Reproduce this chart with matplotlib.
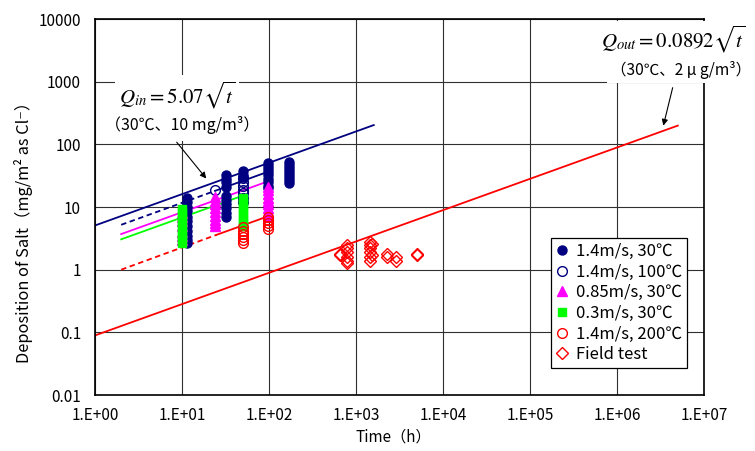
import numpy as np
import matplotlib.pyplot as plt
from matplotlib.ticker import NullLocator

plt.rcParams['font.family'] = ['Noto Sans CJK JP', 'DejaVu Sans']
plt.rcParams['mathtext.fontset'] = 'stix'

# --- data ---
# 1.4 m/s, 30 C (filled navy circles)
t_a = [11.5]*11 + [32]*10 + [50]*3 + [98]*9 + [168]*8
y_a = [14, 12, 10, 8.5, 7, 6, 5, 4.2, 3.5, 3, 2.7,
       32, 28, 25, 21, 15, 13, 11, 9.5, 8, 6.8,
       37, 33, 30,
       50, 45, 40, 36, 32, 28, 25, 22, 20,
       52, 47, 42, 38, 34, 30, 27, 24]
# 1.4 m/s, 100 C (open navy circles)
t_b = [24] + [50]*7
y_b = [18.5, 29, 25, 22, 19, 16.5, 14, 12]
# 0.85 m/s, 30 C (magenta triangles)
t_c = [10]*7 + [24]*9 + [98]*9
y_c = [8, 7, 6, 5, 4, 3.5, 3,
       14.5, 12.5, 11, 9.5, 8.3, 7.2, 6.3, 5.5, 4.9,
       21, 18.5, 16, 14, 12.5, 11, 9.5, 8.3, 7.2]
# 0.3 m/s, 30 C (green squares)
t_d = [10]*11 + [50]*9
y_d = [9.3, 8.3, 7.3, 6.5, 5.7, 5, 4.4, 3.9, 3.4, 3, 2.7,
       14, 12.5, 11, 9.5, 8.3, 7.2, 6.3, 5.5, 4.9]
# 1.4 m/s, 200 C (open red circles)
t_e = [50]*6 + [98]*5
y_e = [4.8, 4.2, 3.7, 3.3, 3.0, 2.7, 7.0, 6.2, 5.5, 4.9, 4.4]
# field test (open red diamonds)
t_f = [655, 655, 780, 780, 780, 780, 780, 780, 1450, 1450, 1450, 1450, 1450, 1450,
       1520, 1520, 2250, 2250, 2880, 2880, 4985, 4985]
y_f = [1.7, 1.8, 2.5, 2.2, 1.9, 1.6, 1.4, 1.3, 2.8, 2.5, 2.2, 1.9, 1.6, 1.4,
       2.6, 1.7, 1.8, 1.6, 1.6, 1.35, 1.75, 1.7]

# fitted lines (end points)
qin_t, qin_y = [1, 1600], [5.07, 203]
qout_t, qout_y = [1, 5e6], [0.0892, 199]
navy_dash_t, navy_dash_y = [2, 24], [5.2, 18.1]
navy_t, navy_y = [24, 100], [18.1, 37]
mag_t, mag_y = [2, 100], [3.7, 26]
grn_t, grn_y = [2, 50], [3.05, 15.2]
red_dash_t, red_dash_y = [2, 25], [1.0, 3.6]
red_t, red_y = [25, 100], [3.6, 7.2]

x_ticks = [10**i for i in range(8)]
x_labels = ['1.E+%02d' % i for i in range(8)]
y_ticks = [0.01, 0.1, 1, 10, 100, 1000, 10000]
y_labels = ['0.01', '0.1', '1', '10', '100', '1000', '10000']

navy = '#000080'
mag = '#FF00FF'
grn = '#00FF00'
red = '#FF0000'

fig = plt.figure(figsize=(7.55, 4.51), dpi=100)
ax = fig.add_axes([95/755, 56/451, 609/755, 376/451])
ax.set_xscale('log')
ax.set_yscale('log')

# lines
ax.plot(qin_t, qin_y, color=navy, lw=1.3)
ax.plot(qout_t, qout_y, color=red, lw=1.3)
ax.plot(navy_dash_t, navy_dash_y, color=navy, lw=1.3, dashes=(3, 2))
ax.plot(navy_t, navy_y, color=navy, lw=1.3)
ax.plot(mag_t, mag_y, color=mag, lw=1.3)
ax.plot(grn_t, grn_y, color=grn, lw=1.3)
ax.plot(red_dash_t, red_dash_y, color=red, lw=1.3, dashes=(3, 2))
ax.plot(red_t, red_y, color=red, lw=1.3)

# points
ax.plot(t_a, y_a, 'o', color=navy, ms=6.5, ls='none', label='1.4m/s, 30℃')
ax.plot(t_b, y_b, 'o', mfc='none', mec=navy, mew=1, ms=7, ls='none', label='1.4m/s, 100℃')
ax.plot(t_c, y_c, '^', color=mag, ms=7, ls='none', label='0.85m/s, 30℃')
ax.plot(t_d, y_d, 's', color=grn, ms=6, ls='none', label='0.3m/s, 30℃')
ax.plot(t_e, y_e, 'o', mfc='none', mec=red, mew=1, ms=7, ls='none', label='1.4m/s, 200℃')
ax.plot(t_f, y_f, 'D', mfc='none', mec=red, mew=1, ms=6, ls='none', label='Field test')

ax.set_xlim(1, 1e7)
ax.set_ylim(0.01, 10000)
ax.set_xticks(x_ticks)
ax.set_xticklabels(x_labels)
ax.set_yticks(y_ticks)
ax.set_yticklabels(y_labels)
ax.xaxis.set_minor_locator(NullLocator())
ax.yaxis.set_minor_locator(NullLocator())
ax.tick_params(length=0, labelsize=11, colors='black')
ax.tick_params(axis='x', pad=9)
ax.tick_params(axis='y', pad=10)
ax.grid(True, color='#303030', lw=0.8)
ax.set_axisbelow(True)
for s in ax.spines.values():
    s.set_linewidth(1.2)

fig.text(24/755, 1 - 228/451, 'Deposition of Salt（mg/m² as Cl⁻）',
         rotation=90, ha='center', va='center', fontsize=11.8)
fig.text(393/755, 1 - 437/451, 'Time（h）', ha='center', va='center', fontsize=11)

leg = ax.legend(loc='upper left', bbox_to_anchor=(0.748, 0.418), fontsize=12,
                frameon=True, fancybox=False, edgecolor='black', framealpha=1,
                handlelength=0.8, handletextpad=0.4, labelspacing=0.22,
                borderpad=0.3, borderaxespad=0)
leg.get_frame().set_linewidth(0.9)

# annotations
fig.text(177/755, 1 - 95/451, r'$Q_{in}=5.07\sqrt{t}$', ha='center', va='center',
         fontsize=15, bbox=dict(facecolor='white', edgecolor='none', pad=3))
fig.text(182/755, 1 - 125/451, '（30℃、10 mg/m³）', ha='center', va='center',
         fontsize=11.5, bbox=dict(facecolor='white', edgecolor='none', pad=5))
fig.text(673/755, 1 - 39/451, r'$Q_{out}=0.0892\sqrt{t}$', ha='center', va='center',
         fontsize=15, bbox=dict(facecolor='white', edgecolor='none', pad=1.5))
fig.text(751/755, 1 - 70/451, '（30℃、2 μ g/m³）', ha='right', va='center',
         fontsize=11.2, bbox=dict(facecolor='white', edgecolor='none', pad=3))

arrow = dict(arrowstyle='-|>', color='black', lw=0.8, mutation_scale=9)
ax.annotate('', xy=(19.9, 26.3), xytext=(8.3, 117), arrowprops=arrow)
ax.annotate('', xy=(3.35e6, 180), xytext=(4.44e6, 885), arrowprops=arrow)

fig.savefig('out.png', dpi=100)
